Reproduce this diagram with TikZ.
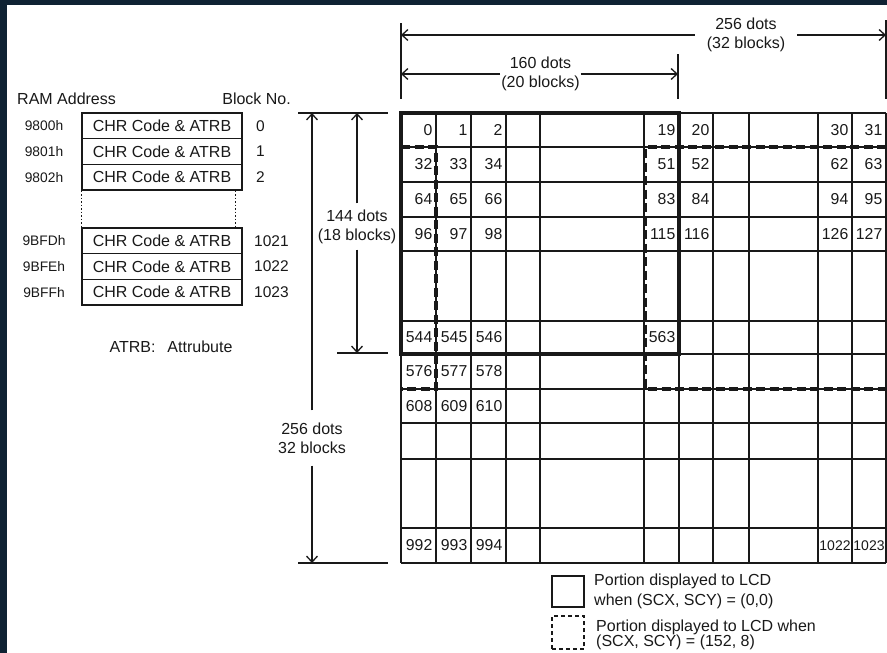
\documentclass[tikz,border=0pt]{standalone}
\usepackage{fontspec}
\setmainfont{Liberation Sans}
\usetikzlibrary{arrows.meta}
\definecolor{frame}{RGB}{15,34,51}
\definecolor{ink}{RGB}{25,25,25}
\begin{document}
\begin{tikzpicture}[x=1pt,y=-1pt,
  gridline/.style={line width=1.3pt,draw=ink},
  thickbox/.style={line width=3.6pt,draw=ink},
  dashbox/.style={line width=3.4pt,draw=ink,dash pattern=on 9pt off 4.5pt},
  num/.style={font=\fontsize{15.8}{18}\selectfont,text=ink,inner sep=0pt,anchor=east},
  smallnum/.style={font=\fontsize{14}{16}\selectfont,text=ink,inner sep=0pt},
  lbl/.style={font=\fontsize{16}{19}\selectfont,text=ink,align=center},
  addr/.style={font=\fontsize{13.8}{16}\selectfont,text=ink,inner sep=0pt},
  blk/.style={font=\fontsize{15.5}{18}\selectfont,text=ink,inner sep=0pt,anchor=west},
  ramcell/.style={draw=ink,line width=1.4pt,minimum width=160pt,minimum height=25.67pt,inner sep=0pt,
    font=\fontsize{16}{19}\selectfont,text=ink},
  dotline/.style={draw=ink,line width=1.1pt,dash pattern=on 1.5pt off 2pt},
  dim/.style={draw=ink,line width=1.3pt},
  arr/.style={dim,-{Straight Barb[length=6pt,width=11pt]}}
]
\useasboundingbox (0,0) rectangle (887,653);
\fill[frame] (0,0) rectangle (887,653);
\fill[white] (7,5) rectangle (887,653);

% ---------- grid ----------
\foreach \x in {401,436,471,506,540,644,679,713,749,818,852,886}
  \draw[gridline] (\x,113) -- (\x,563);
\foreach \y in {113,147,182,217,251,321,354,389,423,459,528,563}
  \draw[gridline] (401,\y) -- (886,\y);

% cell numbers: value / right edge / row centre
\foreach \v/\c/\r in {0/436/130,1/471/130,2/506/130,19/679/130,20/713/130,30/852/130,31/886/130,
  32/436/164.5,33/471/164.5,34/506/164.5,51/679/164.5,52/713/164.5,62/852/164.5,63/886/164.5,
  64/436/199.5,65/471/199.5,66/506/199.5,83/679/199.5,84/713/199.5,94/852/199.5,95/886/199.5,
  96/436/234,97/471/234,98/506/234,115/679/234,116/713/234,126/852/234,127/886/234,
  544/436/337.5,545/471/337.5,546/506/337.5,563/679/337.5,
  576/436/371.5,577/471/371.5,578/506/371.5,
  608/436/406,609/471/406,610/506/406,
  992/436/545.5,993/471/545.5,994/506/545.5}
  \node[num,name=n\v] at ({\c-3.5},\r) {\v};
\node[smallnum,name=n1022] at (835,545.5) {1022};
\node[smallnum,name=n1023] at (869,545.5) {1023};

% displayed regions
\draw[thickbox] (401,113) rectangle (679,354);
\draw[dashbox] (401,147) -- (436,147) -- (436,389) -- (401,389);
\draw[dashbox] (886,147) -- (645,147) -- (645,389) -- (886,389);

% ---------- top dimensions ----------
\coordinate (tlA) at (401,23);  \coordinate (tlB) at (401,99);
\coordinate (trA) at (886,20);  \coordinate (trB) at (886,99);
\coordinate (tmA) at (678,54);  \coordinate (tmB) at (678,99);
\draw[dim] (tlA) -- (tlB);
\draw[dim] (trA) -- (trB);
\draw[dim] (tmA) -- (tmB);
\node[lbl,inner xsep=12pt,inner ysep=0pt,name=t256h] at (746,35) {256 dots\\(32 blocks)};
\coordinate (h256l) at (401,35); \coordinate (h256r) at (886,35);
\draw[arr] (t256h.west) -- (h256l);
\draw[arr] (t256h.east) -- (h256r);
\node[lbl,inner xsep=1pt,inner ysep=0pt,name=t160] at (540.5,74) {160 dots\\(20 blocks)};
\coordinate (h160l) at (401,74); \coordinate (h160r) at (678,74);
\draw[arr] (t160.west) -- (h160l);
\draw[arr] (t160.east) -- (h160r);

% ---------- left dimensions ----------
\coordinate (tkA) at (298,113); \coordinate (tkB) at (388,113);
\coordinate (tmbA) at (337,353); \coordinate (tmbB) at (388,353);
\coordinate (tbA) at (298,563); \coordinate (tbB) at (388,563);
\draw[dim] (tkA) -- (tkB);
\draw[dim] (tmbA) -- (tmbB);
\draw[dim] (tbA) -- (tbB);
\node[lbl,inner xsep=0pt,inner ysep=6pt,name=t144] at (357,226.5) {144 dots\\(18 blocks)};
\coordinate (v144t) at (357,113); \coordinate (v144b) at (357,353);
\draw[arr] (t144.north) -- (v144t);
\draw[arr] (t144.south) -- (v144b);
\node[lbl,inner xsep=0pt,inner ysep=12pt,name=t256v] at (312,438) {256 dots\\32 blocks};
\coordinate (v256t) at (312,113); \coordinate (v256b) at (312,563);
\draw[arr] (t256v.north) -- (v256t);
\draw[arr] (t256v.south) -- (v256b);

% ---------- RAM table ----------
\node[lbl,anchor=west,inner sep=0pt,name=ramhd] at (17,99) {RAM Address};
\node[lbl,anchor=east,inner sep=0pt,name=blkhd] at (291,99) {Block No.};
\node[ramcell,name=r0] at (162,125.8) {CHR Code \& ATRB};
\node[ramcell,name=r1] at (162,151.5) {CHR Code \& ATRB};
\node[ramcell,name=r2] at (162,177.2) {CHR Code \& ATRB};
\node[ramcell,name=r1021] at (162,240.8) {CHR Code \& ATRB};
\node[ramcell,name=r1022] at (162,266.5) {CHR Code \& ATRB};
\node[ramcell,name=r1023] at (162,292.2) {CHR Code \& ATRB};
\draw[dotline] (r2.south west) -- (r1021.north west);
\draw[dotline] ([xshift=-7pt]r2.south east) -- ([xshift=-7pt]r1021.north east);
\node[addr,name=a0] at (44,125.8) {9800h};
\node[addr,name=a1] at (44,151.5) {9801h};
\node[addr,name=a2] at (44,177.2) {9802h};
\node[addr,name=a1021] at (44,240.8) {9BFDh};
\node[addr,name=a1022] at (44,266.5) {9BFEh};
\node[addr,name=a1023] at (44,292.2) {9BFFh};
\node[blk,name=b0] at (256,125.8) {0};
\node[blk,name=b1] at (256,151.5) {1};
\node[blk,name=b2] at (256,177.2) {2};
\node[blk,name=b1021] at (254,240.8) {1021};
\node[blk,name=b1022] at (254,266.5) {1022};
\node[blk,name=b1023] at (254,292.2) {1023};
\node[lbl,inner sep=0pt,name=atrb] at (171,347) {ATRB:\hspace{0.75em}Attrubute};

% ---------- legend ----------
\node[draw=ink,line width=2.2pt,minimum width=32pt,minimum height=31pt,inner sep=0pt,name=lgs] at (568,591.5) {};
\node[draw=ink,line width=2.2pt,dash pattern=on 4pt off 3pt,minimum width=32pt,minimum height=33pt,inner sep=0pt,name=lgd] at (568,632.5) {};
\node[font=\fontsize{16}{19.5}\selectfont,text=ink,align=left,anchor=west,inner sep=0pt,name=lgst] at (594,591.5)
  {Portion displayed to LCD\\when (SCX, SCY) = (0,0)};
\node[font=\fontsize{16}{15}\selectfont,text=ink,align=left,anchor=west,inner sep=0pt,name=lgdt] at (596,634.5)
  {Portion displayed to LCD when\\(SCX, SCY) = (152, 8)};
\end{tikzpicture}
\end{document}
